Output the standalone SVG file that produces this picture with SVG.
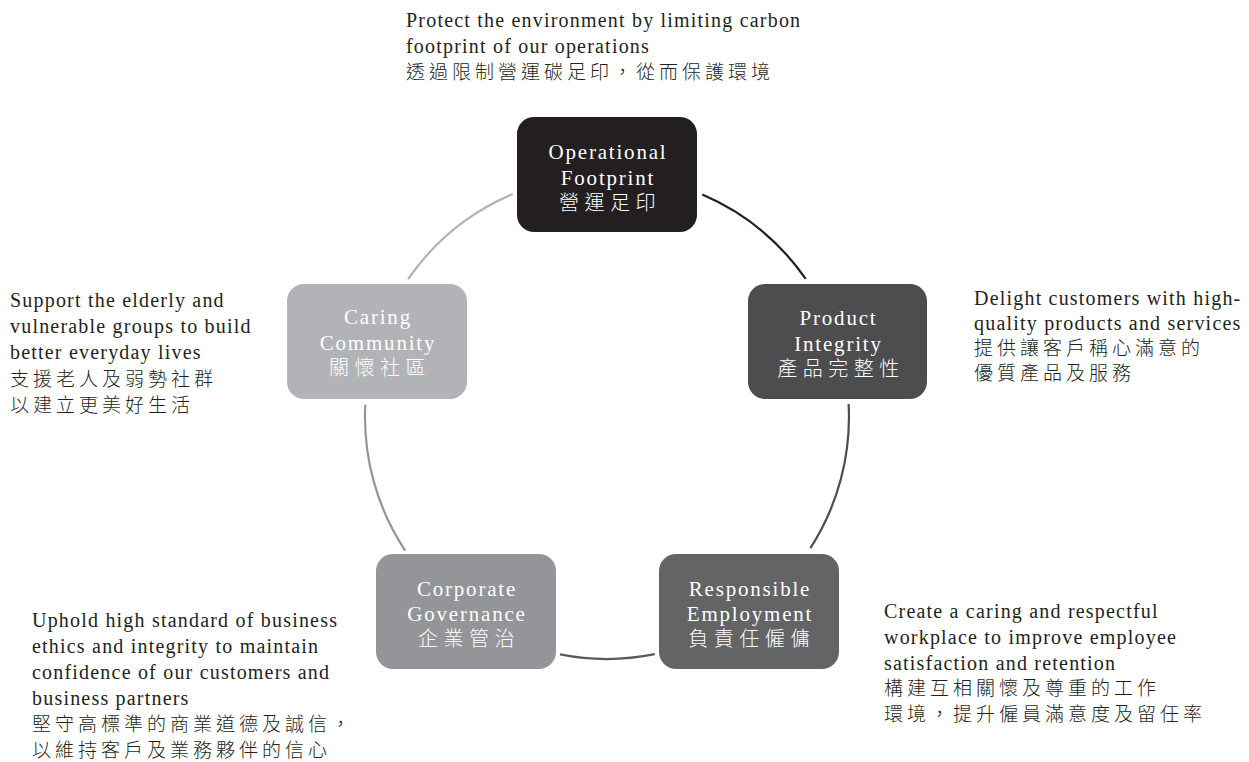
<svg xmlns="http://www.w3.org/2000/svg" width="1249" height="762" viewBox="0 0 1249 762">
<style>
.en{font-family:"Liberation Serif","Times New Roman",serif;font-size:20px;letter-spacing:1.2px;fill:#231f20}
.zh{font-family:"Noto Sans CJK TC","Noto Sans CJK SC",sans-serif;font-size:19px;letter-spacing:4px;fill:#231f20;font-weight:300}
.nen{font-family:"Liberation Serif","Times New Roman",serif;font-size:21px;letter-spacing:1.8px;fill:#ffffff;text-anchor:middle}
.nzh{font-family:"Noto Sans CJK TC","Noto Sans CJK SC",sans-serif;font-size:20px;letter-spacing:5.5px;fill:#ffffff;text-anchor:middle;font-weight:300}
.arc{fill:none;stroke-width:2.2}
</style>
<rect width="1249" height="762" fill="#ffffff"/>
<g id="connectors">
<path class="arc" stroke="#231f20" d="M702.3,194.6 A242,242 0 0 1 805.7,278.9"/>
<path class="arc" stroke="#4d4d4f" d="M848.6,403.9 A242,242 0 0 1 810.4,548.1"/>
<path class="arc" stroke="#58595b" d="M654.8,654.2 A242,242 0 0 1 560.0,654.4"/>
<path class="arc" stroke="#939598" d="M405.2,550.6 A242,242 0 0 1 365.3,404.8"/>
<path class="arc" stroke="#b1b3b6" d="M408.0,279.2 A242,242 0 0 1 512.8,194.1"/>
</g>
<g id="node-operational">
<rect x="517" y="117" width="180" height="115" rx="17" fill="#231f20"/>
<text class="nen" x="608" y="159">Operational</text>
<text class="nen" x="608" y="185">Footprint</text>
<text class="nzh" x="610" y="210">營運足印</text>
</g>
<g id="node-product">
<rect x="748" y="284" width="179" height="115" rx="17" fill="#4d4d4f"/>
<text class="nen" x="838.5" y="325">Product</text>
<text class="nen" x="838.5" y="351">Integrity</text>
<text class="nzh" x="841" y="376">產品完整性</text>
</g>
<g id="node-employment">
<rect x="659" y="554" width="180" height="115" rx="17" fill="#636466"/>
<text class="nen" x="750" y="596">Responsible</text>
<text class="nen" x="750" y="621">Employment</text>
<text class="nzh" x="752" y="646">負責任僱傭</text>
</g>
<g id="node-governance">
<rect x="376" y="554" width="180" height="115" rx="17" fill="#939598"/>
<text class="nen" x="467" y="596">Corporate</text>
<text class="nen" x="467" y="621">Governance</text>
<text class="nzh" x="469" y="646">企業管治</text>
</g>
<g id="node-community">
<rect x="287" y="284" width="180" height="115" rx="17" fill="#b1b3b6"/>
<text class="nen" x="378" y="324">Caring</text>
<text class="nen" x="378" y="350">Community</text>
<text class="nzh" x="380" y="375">關懷社區</text>
</g>
<g id="desc-operational">
<text class="en" x="406" y="27">Protect the environment by limiting carbon</text>
<text class="en" x="406" y="53">footprint of our operations</text>
<text class="zh" x="406" y="79">透過限制營運碳足印，從而保護環境</text>
</g>
<g id="desc-product">
<text class="en" x="974" y="305">Delight customers with high-</text>
<text class="en" x="974" y="330">quality products and services</text>
<text class="zh" x="974" y="355">提供讓客戶稱心滿意的</text>
<text class="zh" x="974" y="380">優質產品及服務</text>
</g>
<g id="desc-employment">
<text class="en" x="884" y="618">Create a caring and respectful</text>
<text class="en" x="884" y="644">workplace to improve employee</text>
<text class="en" x="884" y="670">satisfaction and retention</text>
<text class="zh" x="884" y="695">構建互相關懷及尊重的工作</text>
<text class="zh" x="884" y="721">環境，提升僱員滿意度及留任率</text>
</g>
<g id="desc-governance">
<text class="en" x="32" y="627">Uphold high standard of business</text>
<text class="en" x="32" y="653">ethics and integrity to maintain</text>
<text class="en" x="32" y="679">confidence of our customers and</text>
<text class="en" x="32" y="705">business partners</text>
<text class="zh" x="32" y="731">堅守高標準的商業道德及誠信，</text>
<text class="zh" x="32" y="757">以維持客戶及業務夥伴的信心</text>
</g>
<g id="desc-community">
<text class="en" x="10" y="307">Support the elderly and</text>
<text class="en" x="10" y="333">vulnerable groups to build</text>
<text class="en" x="10" y="359">better everyday lives</text>
<text class="zh" x="10" y="386">支援老人及弱勢社群</text>
<text class="zh" x="10" y="412">以建立更美好生活</text>
</g>
</svg>
